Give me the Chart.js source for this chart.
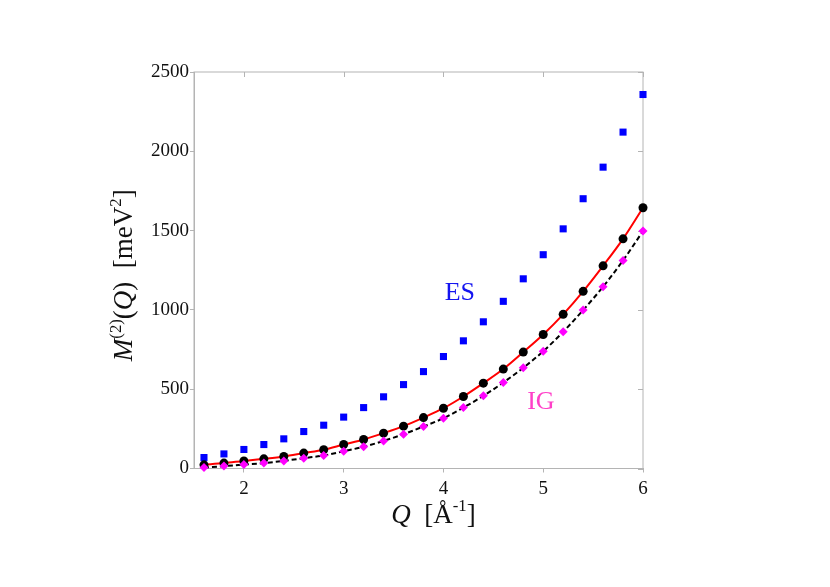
<!DOCTYPE html>
<html>
<head>
<meta charset="utf-8">
<script src="https://cdn.jsdelivr.net/npm/chart.js@4/dist/chart.umd.min.js"></script>
<style>
  html, body { margin: 0; padding: 0; background: #fff; }
  #wrap { width: 830px; height: 587px; }
</style>
</head>
<body>
<div id="wrap"><canvas id="chart"></canvas></div>
<script>
// Q values (1/Angstrom)
const qValues = [1.6, 1.8, 2.0, 2.2, 2.4, 2.6, 2.8, 3.0, 3.2, 3.4, 3.6, 3.8,
                 4.0, 4.2, 4.4, 4.6, 4.8, 5.0, 5.2, 5.4, 5.6, 5.8, 6.0];
// ES series (blue squares)
const esValues = [69, 92, 120, 151, 187, 233, 273, 324, 384, 452, 529, 611,
                  706, 805, 925, 1054, 1196, 1348, 1511, 1701, 1900, 2121, 2358];
// black circles, red solid curve
const fitValues = [23, 34, 48, 61, 76, 97, 118, 151, 183, 223, 267, 321,
                   380, 454, 538, 627, 734, 845, 972, 1117, 1278, 1448, 1644];
// IG series (magenta diamonds), black dashed curve
const igValues = [6, 15, 25, 34, 48, 65, 82, 109, 137, 174, 216, 265,
                  317, 384, 458, 542, 635, 739, 862, 999, 1146, 1312, 1497];

const xTicks = [2, 3, 4, 5, 6];
const yTicks = [0, 500, 1000, 1500, 2000, 2500];

const pts = vals => qValues.map((q, i) => ({ x: q, y: vals[i] }));

const SERIF = "'Liberation Serif', 'DejaVu Serif', serif";
const FRAME = '#b4b4b4';

// frame + inner ticks go under the markers, texts on top
const decor = {
    id: 'decor',
    beforeDatasetsDraw(chart) {
        const { ctx, chartArea: a, scales: { x, y } } = chart;
        ctx.save();
        ctx.strokeStyle = FRAME;
        ctx.lineWidth = 1;
        ctx.strokeRect(a.left, a.top, a.right - a.left, a.bottom - a.top);
        ctx.beginPath();
        xTicks.forEach(v => {
            const px = Math.round(x.getPixelForValue(v)) + 0.5;
            ctx.moveTo(px, a.top); ctx.lineTo(px, a.top + 5);
        });
        yTicks.forEach(v => {
            const py = Math.round(y.getPixelForValue(v)) + 0.5;
            ctx.moveTo(a.right, py); ctx.lineTo(a.right - 5, py);
        });
        ctx.stroke();
        ctx.restore();
    },
    afterDraw(chart) {
        const { ctx, chartArea: a, scales: { x, y } } = chart;
        ctx.save();

        // rich text helper: parts = [[text, style]] style: 'i' italic, 's' superscript
        function rich(parts, size) {
            let w = 0;
            parts.forEach(p => {
                const fs = p[1].includes('s') ? size * 0.62 : size;
                ctx.font = (p[1].includes('i') ? 'italic ' : '') + fs + 'px ' + SERIF;
                p.w = ctx.measureText(p[0]).width;
                w += p.w;
            });
            let cx = -w / 2;
            parts.forEach(p => {
                const fs = p[1].includes('s') ? size * 0.62 : size;
                ctx.font = (p[1].includes('i') ? 'italic ' : '') + fs + 'px ' + SERIF;
                ctx.fillText(p[0], cx, p[1].includes('s') ? -size * 0.42 : 0);
                cx += p.w;
            });
        }

        ctx.fillStyle = '#111';
        ctx.textBaseline = 'alphabetic';
        ctx.textAlign = 'left';
        // x title
        ctx.save();
        ctx.translate((a.left + a.right) / 2 + 15, a.bottom + 54);
        rich([['Q', 'i'], ['  [Å', ''], ['-1', 's'], [']', '']], 27);
        ctx.restore();
        // y title
        ctx.save();
        ctx.translate(a.left - 62, (a.top + a.bottom) / 2 + 5);
        ctx.rotate(-Math.PI / 2);
        rich([['M', 'i'], ['(2)', 's'], ['(', ''], ['Q', 'i'], [')  [meV', ''], ['2', 's'], [']', '']], 27);
        ctx.restore();

        // curve labels
        ctx.font = '26px ' + SERIF;
        ctx.textAlign = 'center';
        ctx.textBaseline = 'middle';
        ctx.fillStyle = '#1414f0';
        ctx.fillText('ES', x.getPixelForValue(4.165), y.getPixelForValue(1107));
        ctx.fillStyle = '#ff40c8';
        ctx.fillText('IG', x.getPixelForValue(4.977), y.getPixelForValue(419));
        ctx.restore();
    }
};

new Chart(document.getElementById('chart'), {
    type: 'scatter',
    data: {
        datasets: [
            {
                type: 'line', label: 'fit', data: pts(fitValues),
                borderColor: '#ff0000', borderWidth: 2, pointRadius: 0,
                cubicInterpolationMode: 'monotone', fill: false, order: 4, clip: false
            },
            {
                type: 'line', label: 'IG fit', data: pts(igValues),
                borderColor: '#000', borderWidth: 2, borderDash: [5, 3], pointRadius: 0,
                cubicInterpolationMode: 'monotone', fill: false, order: 3, clip: false
            },
            {
                label: 'ES', data: pts(esValues), pointStyle: 'rect', clip: false,
                pointRadius: 5, backgroundColor: '#0000ff', borderColor: '#0000ff', borderWidth: 0, order: 2
            },
            {
                label: 'M2', data: pts(fitValues), pointStyle: 'circle', clip: false,
                pointRadius: 4.5, backgroundColor: '#000', borderColor: '#000', borderWidth: 0, order: 1
            },
            {
                label: 'IG', data: pts(igValues), pointStyle: 'rectRot', clip: false,
                pointRadius: 4.5, backgroundColor: '#ff00ff', borderColor: '#ff00ff', borderWidth: 0, order: 0
            }
        ]
    },
    options: {
        responsive: true,
        maintainAspectRatio: false,
        animation: false,
        layout: { padding: { left: 100, right: 187, top: 72, bottom: 0 } },
        plugins: { legend: { display: false }, tooltip: { enabled: false } },
        scales: {
            x: {
                type: 'linear', min: 1.5, max: 6,
                afterBuildTicks: s => { s.ticks = xTicks.map(v => ({ value: v })); },
                afterFit: s => { s.height = 118.5; },
                border: { display: true, color: FRAME },
                grid: { drawOnChartArea: false, color: FRAME, tickLength: 4 },
                ticks: { color: '#111', padding: 5, font: { family: SERIF, size: 19 },
                         callback: v => String(v) }
            },
            y: {
                type: 'linear', min: 0, max: 2500,
                afterBuildTicks: s => { s.ticks = yTicks.map(v => ({ value: v })); },
                afterFit: s => { s.width = 94; },
                border: { display: true, color: FRAME },
                grid: { drawOnChartArea: false, color: FRAME, tickLength: 4 },
                ticks: { color: '#111', padding: 1, font: { family: SERIF, size: 19 },
                         callback: v => String(v) }
            }
        }
    },
    plugins: [decor]
});
</script>
</body>
</html>
